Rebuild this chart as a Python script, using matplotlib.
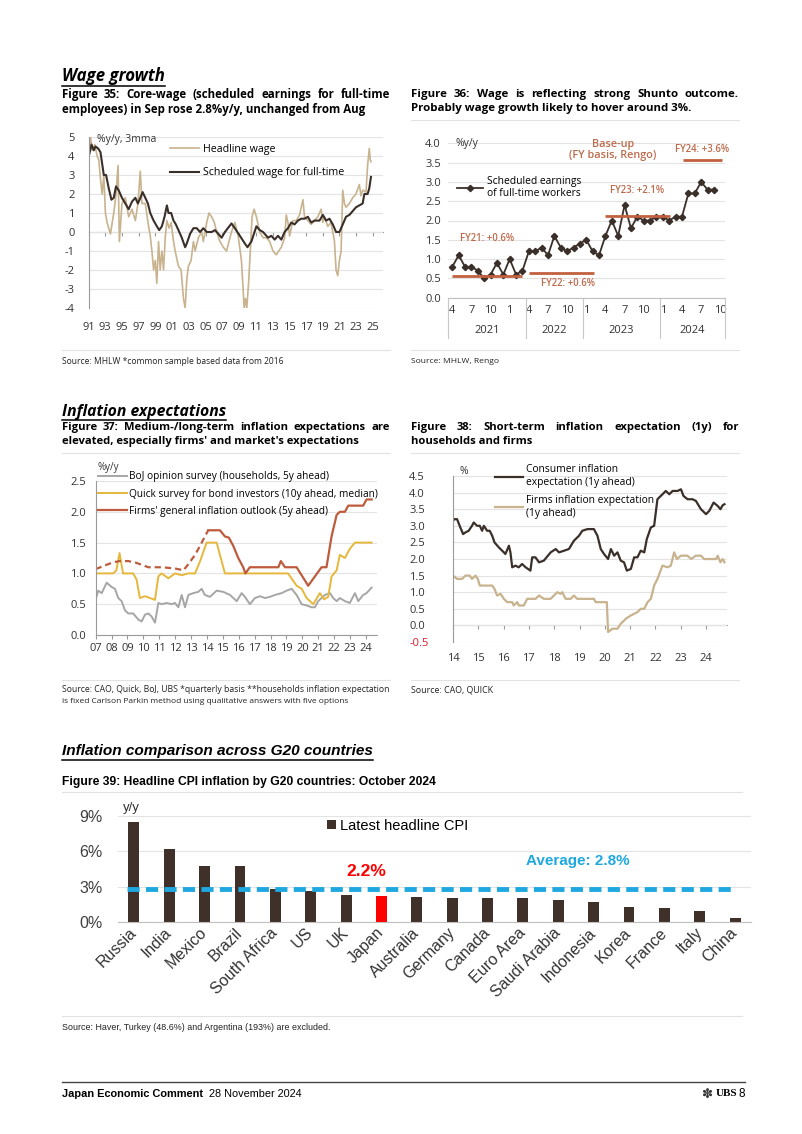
import matplotlib
matplotlib.use("Agg")
import matplotlib.pyplot as plt
from matplotlib.lines import Line2D
from matplotlib.transforms import ScaledTranslation

W, H = 802, 1134

# ==================== DATA ====================
# Figure 35: wage growth, %y/y 3mma
headline_year = [1991.04, 1991.24, 1991.44, 1991.75, 1992.03, 1992.23, 1992.43, 1992.63, 1992.83,
                 1993.02, 1993.22, 1993.42, 1993.62, 1994.02, 1994.29, 1994.53, 1994.69, 1995.0,
                 1995.4, 1995.8, 1996.2, 1996.6, 1996.91, 1997.19, 1997.39, 1997.79, 1998.18,
                 1998.38, 1998.58, 1998.78, 1998.98, 1999.17, 1999.37, 1999.57, 1999.77, 1999.97,
                 2000.17, 2000.37, 2000.64, 2000.88, 2001.16, 2001.36, 2001.75, 2002.07, 2002.35,
                 2002.55, 2002.75, 2002.94, 2003.26, 2003.54, 2003.74, 2004.13, 2004.53, 2004.73,
                 2005.13, 2005.4, 2005.72, 2006.04, 2006.32, 2006.71, 2007.11, 2007.5, 2007.79,
                 2008.09, 2008.49, 2008.89, 2009.28, 2009.48, 2009.6, 2009.76, 2009.92, 2010.16,
                 2010.4, 2010.55, 2010.79, 2011.07, 2011.47, 2011.86, 2012.26, 2012.66, 2013.05,
                 2013.45, 2013.73, 2014.05, 2014.44, 2014.64, 2014.84, 2015.04, 2015.43, 2015.83,
                 2016.23, 2016.63, 2016.82, 2017.22, 2017.62, 2018.01, 2018.41, 2018.81, 2019.01,
                 2019.2, 2019.6, 2019.99, 2020.4, 2020.59, 2020.79, 2020.99, 2021.19, 2021.39,
                 2021.59, 2021.78, 2022.18, 2022.58, 2022.97, 2023.37, 2023.57, 2023.77, 2024.17,
                 2024.36, 2024.56, 2024.68, 2024.76]
headline_wage = [4.2, 5.0, 4.3, 4.6, 4.0, 3.8, 2.8, 2.0, 3.0,
                 1.0, 0.5, 0.2, -0.1, 1.0, 2.0, 3.5, -0.5, 1.5,
                 1.8, 0.8, 1.2, 0.6, 1.5, 3.2, 1.5, 1.5, 0.3,
                 -0.2, -1.0, -2.0, -1.5, -2.7, -0.5, -2.0, -1.0, -2.0,
                 -0.3, 0.6, 0.2, 0.5, -0.5, -1.0, -1.8, -2.0, -3.5,
                 -4.0, -2.5, -1.8, -1.5, -0.5, -1.0, -0.3, 0.0, -0.5,
                 0.5, 1.0, 0.8, 0.5, 0.0, -0.5, -0.8, -1.0, -0.5,
                 0.0, 0.5, -0.2, -1.5, -3.0, -4.0, -3.5, -4.0, -2.5,
                 -0.5, 0.8, 1.2, 0.8, 0.0, -0.3, -0.3, -0.5, -1.0,
                 -1.2, -1.0, -0.8, -0.3, 0.9, 0.5, -0.2, 0.6, 0.6,
                 0.9, 1.7, 0.8, 0.6, 0.4, 0.6, 0.8, 1.2, 0.5,
                 0.8, 0.3, 0.5, -0.5, -2.0, -2.3, -1.5, -1.0, 2.2,
                 1.5, 1.3, 1.5, 1.8, 2.0, 2.5, 1.9, 2.2, 2.1,
                 3.5, 4.4, 3.8, 3.7]
sched_year = [1991.04, 1991.36, 1991.63, 1991.83, 1992.15, 1992.43, 1992.83, 1993.1, 1993.42,
              1993.74, 1994.02, 1994.29, 1994.6, 1995.0, 1995.4, 1995.8, 1996.2, 1996.6,
              1996.9, 1997.2, 1997.47, 1997.79, 1998.1, 1998.38, 1998.78, 1999.17, 1999.45,
              1999.77, 2000.09, 2000.37, 2000.56, 2000.88, 2001.16, 2001.44, 2001.75, 2002.15,
              2002.55, 2002.75, 2003.14, 2003.54, 2003.94, 2004.33, 2004.73, 2005.13, 2005.72,
              2006.12, 2006.52, 2006.91, 2007.31, 2008.09, 2008.49, 2009.09, 2009.68, 2010.0,
              2010.47, 2011.07, 2011.47, 2011.86, 2012.46, 2012.86, 2013.25, 2013.65, 2014.05,
              2014.44, 2014.84, 2015.24, 2015.63, 2016.03, 2016.43, 2016.82, 2017.22, 2017.62,
              2018.01, 2018.61, 2019.01, 2019.4, 2019.8, 2020.2, 2020.59, 2020.99, 2021.39,
              2021.78, 2022.18, 2022.58, 2022.97, 2023.37, 2023.77, 2023.97, 2024.36, 2024.56,
              2024.76]
sched_wage = [4.0, 4.6, 4.3, 4.5, 4.4, 4.2, 3.0, 3.0, 2.3,
              1.7, 1.8, 2.4, 2.2, 1.8, 1.5, 1.2, 1.6, 1.8,
              1.5, 1.8, 2.1, 1.8, 1.5, 1.0, 0.6, 0.3, 0.1,
              0.3, 0.8, 1.4, 1.0, 1.0, 0.6, 0.4, 0.1, -0.3,
              -0.8, -0.6, -0.1, 0.2, 0.2, 0.0, 0.2, 0.0, 0.0,
              0.1, -0.1, -0.3, 0.0, 0.45, 0.2, -0.2, -0.6, -0.8,
              -0.5, 0.3, 0.1, 0.0, -0.3, -0.2, -0.4, -0.2, -0.4,
              0.0, 0.2, 0.5, 0.4, 0.6, 0.7, 0.7, 0.8, 0.5,
              0.6, 0.6, 0.9, 0.6, 0.7, 0.4, 0.0, 0.0, 0.4,
              0.8, 0.9, 1.1, 1.3, 1.4, 1.5, 2.0, 2.0, 2.3,
              2.9]

# Figure 36: scheduled earnings of full-time workers, Apr-2021 .. Sep-2024 (monthly)
sched_fulltime = [0.8, 1.1, 0.8, 0.8, 0.7, 0.5, 0.6, 0.9, 0.6, 1.0, 0.6, 0.7,
                  1.2, 1.2, 1.3, 1.1, 1.6, 1.3, 1.2, 1.3, 1.4, 1.5, 1.2, 1.1,
                  1.6, 2.0, 1.6, 2.4, 1.8, 2.1, 2.0, 2.0, 2.1, 2.1, 2.0, 2.1,
                  2.1, 2.7, 2.7, 3.0, 2.8, 2.8]
month_labels = ["4", "7", "10", "1", "4", "7", "10", "1", "4", "7", "10", "1", "4", "7", "10"]
year_groups = ["2021", "2022", "2023", "2024"]
year_bounds = [-0.67, 11.5, 20.5, 32.5, 42.74]
baseup_labels = ["FY21: +0.6%", "FY22: +0.6%", "FY23: +2.1%", "FY24: +3.6%"]
baseup_level = [0.56, 0.63, 2.12, 3.58]
baseup_start = [0.0, 12.0, 23.9, 36.1]
baseup_end = [10.9, 22.2, 34.1, 42.2]

# Figure 37: medium/long-term inflation expectations
boj_year = [2007.0, 2007.16, 2007.38, 2007.69, 2008.0, 2008.21, 2008.42, 2008.63, 2008.84, 2009.05,
            2009.36, 2009.68, 2009.89, 2010.1, 2010.31, 2010.52, 2010.73, 2010.94, 2011.15, 2011.47,
            2011.78, 2011.99, 2012.2, 2012.41, 2012.62, 2012.83, 2013.14, 2013.45, 2013.67, 2013.87,
            2014.19, 2014.61, 2015.03, 2015.45, 2015.87, 2016.18, 2016.39, 2016.7, 2017.02, 2017.33,
            2017.65, 2017.96, 2018.28, 2018.7, 2019.01, 2019.33, 2019.64, 2019.96, 2020.27, 2020.58,
            2020.79, 2021.0, 2021.42, 2021.74, 2021.94, 2022.16, 2022.36, 2022.68, 2022.99, 2023.31,
            2023.52, 2023.83, 2024.04, 2024.36]
boj_val = [0.58, 0.72, 0.68, 0.85, 0.78, 0.75, 0.6, 0.55, 0.4, 0.35,
           0.35, 0.25, 0.22, 0.33, 0.35, 0.3, 0.2, 0.52, 0.5, 0.52,
           0.5, 0.52, 0.45, 0.65, 0.45, 0.65, 0.68, 0.7, 0.75, 0.65,
           0.62, 0.72, 0.7, 0.65, 0.55, 0.68, 0.62, 0.5, 0.6, 0.63,
           0.6, 0.62, 0.65, 0.68, 0.72, 0.75, 0.65, 0.5, 0.48, 0.45,
           0.45, 0.55, 0.65, 0.68, 0.6, 0.55, 0.6, 0.55, 0.52, 0.68,
           0.55, 0.65, 0.68, 0.77]
quick_year = [2007.0, 2008.1, 2008.3, 2008.5, 2008.72, 2009.36, 2009.57, 2009.78, 2010.1, 2010.42,
              2010.73, 2010.94, 2011.15, 2011.57, 2011.99, 2012.41, 2012.83, 2013.25, 2013.57, 2013.98,
              2014.61, 2015.13, 2019.1, 2019.64, 2019.96, 2020.27, 2020.69, 2021.1, 2021.37, 2021.63,
              2021.84, 2022.16, 2022.36, 2022.68, 2022.99, 2023.31, 2024.36]
quick_val = [1.0, 1.0, 1.05, 1.33, 1.0, 1.0, 0.9, 0.6, 0.63, 0.6,
             0.57, 0.95, 1.0, 0.92, 1.0, 0.97, 1.0, 1.0, 1.2, 1.5,
             1.5, 1.0, 1.0, 0.8, 0.75, 0.6, 0.5, 0.68, 0.58, 0.62,
             0.95, 1.05, 1.3, 1.25, 1.4, 1.5, 1.5]
firms_dash_year = [2007.0, 2007.48, 2008.1, 2008.5, 2009.05, 2009.57, 2010.31, 2011.15, 2011.99,
                   2012.52, 2012.83, 2013.25, 2013.57, 2013.87, 2014.08]
firms_dash_val = [1.07, 1.12, 1.18, 1.2, 1.2, 1.17, 1.1, 1.1, 1.08,
                  1.05, 1.15, 1.3, 1.45, 1.6, 1.7]
firms_year = [2014.08, 2014.82, 2015.13, 2015.38, 2015.65, 2015.97, 2016.28, 2016.42, 2016.7,
              2018.49, 2018.65, 2018.91, 2019.64, 2020.37, 2021.21, 2021.52, 2021.84, 2022.16,
              2022.36, 2022.68, 2022.89, 2023.83, 2024.04, 2024.36]
firms_val = [1.7, 1.7, 1.6, 1.58, 1.45, 1.25, 1.1, 1.0, 1.1,
             1.1, 1.2, 1.1, 1.1, 0.8, 1.1, 1.1, 1.6, 1.95,
             2.0, 2.0, 2.1, 2.1, 2.2, 2.2]

# Figure 38: short-term (1y) inflation expectations
cons_year = [2014.0, 2014.05, 2014.16, 2014.29, 2014.4, 2014.49, 2014.62, 2014.75, 2014.82, 2014.95,
             2015.06, 2015.15, 2015.22, 2015.35, 2015.45, 2015.55, 2015.64, 2015.81, 2016.01, 2016.07,
             2016.21, 2016.27, 2016.34, 2016.47, 2016.6, 2016.73, 2016.87, 2017.06, 2017.13, 2017.26,
             2017.4, 2017.59, 2017.86, 2018.06, 2018.19, 2018.39, 2018.58, 2018.78, 2018.98, 2019.11,
             2019.31, 2019.57, 2019.71, 2019.84, 2019.97, 2020.13, 2020.24, 2020.37, 2020.5, 2020.63,
             2020.76, 2020.87, 2021.03, 2021.16, 2021.29, 2021.42, 2021.56, 2021.66, 2021.82, 2021.95,
             2022.08, 2022.28, 2022.41, 2022.55, 2022.68, 2022.88, 2023.01, 2023.11, 2023.27, 2023.47,
             2023.6, 2023.8, 2024.0, 2024.13, 2024.3, 2024.46, 2024.57, 2024.66, 2024.73]
cons_val = [3.15, 3.2, 3.2, 2.95, 2.75, 2.8, 2.85, 3.0, 3.1, 3.0,
            3.0, 2.85, 3.0, 2.85, 2.85, 2.7, 2.5, 2.35, 2.2, 2.15,
            2.4, 2.2, 1.75, 1.8, 1.75, 1.85, 1.75, 1.65, 2.05, 2.05,
            1.9, 1.95, 2.2, 2.3, 2.2, 2.25, 2.3, 2.55, 2.7, 2.85,
            2.9, 2.9, 2.7, 2.3, 2.15, 2.0, 2.3, 2.1, 2.2, 1.95,
            1.9, 1.65, 1.7, 2.05, 2.05, 2.25, 2.2, 2.6, 2.95, 3.0,
            3.8, 3.95, 4.05, 3.95, 4.05, 4.05, 4.1, 3.9, 3.8, 3.8,
            3.75, 3.5, 3.35, 3.45, 3.7, 3.6, 3.5, 3.62, 3.65]
firm1y_year = [2014.0, 2014.16, 2014.36, 2014.49, 2014.66, 2014.75, 2014.89, 2014.98, 2015.06, 2015.55,
               2015.64, 2015.74, 2015.88, 2016.01, 2016.14, 2016.34, 2016.4, 2016.54, 2016.6, 2016.8,
               2016.93, 2017.26, 2017.4, 2017.59, 2017.86, 2017.99, 2018.12, 2018.25, 2018.32, 2018.45,
               2018.65, 2018.78, 2018.91, 2019.57, 2019.64, 2020.08, 2020.13, 2020.3, 2020.5, 2020.63,
               2020.83, 2021.03, 2021.29, 2021.42, 2021.56, 2021.69, 2021.82, 2021.95, 2022.08, 2022.28,
               2022.48, 2022.61, 2022.74, 2022.85, 2023.01, 2023.27, 2023.41, 2023.6, 2023.8, 2023.93,
               2024.4, 2024.46, 2024.57, 2024.66, 2024.73]
firm1y_val = [1.5, 1.4, 1.4, 1.5, 1.5, 1.4, 1.5, 1.4, 1.2, 1.2,
              1.1, 0.9, 0.95, 0.8, 0.7, 0.7, 0.6, 0.7, 0.6, 0.6,
              0.8, 0.8, 0.9, 0.8, 0.8, 0.9, 1.0, 0.95, 1.0, 0.8,
              0.8, 0.9, 0.8, 0.8, 0.7, 0.7, -0.2, -0.1, -0.1, 0.05,
              0.2, 0.3, 0.4, 0.5, 0.5, 0.7, 0.8, 1.2, 1.4, 1.8,
              1.75, 1.8, 2.2, 2.0, 2.1, 2.1, 2.0, 2.1, 2.1, 2.0,
              2.0, 2.1, 1.9, 2.0, 1.9]

# Figure 39: headline CPI, October 2024
countries = ["Russia", "India", "Mexico", "Brazil", "South Africa", "US", "UK", "Japan",
             "Australia", "Germany", "Canada", "Euro Area", "Saudi Arabia", "Indonesia",
             "Korea", "France", "Italy", "China"]
cpi = [8.5, 6.2, 4.76, 4.76, 2.8, 2.6, 2.3, 2.2, 2.1, 2.0, 2.0, 2.0, 1.9, 1.7, 1.3, 1.2, 0.9, 0.3]
g20_avg = 2.8

# ==================== STYLE ====================
plt.rcParams['font.family'] = ['Open Sans', 'DejaVu Sans']
plt.rcParams['axes.unicode_minus'] = False
DARK = '#3b2f29'
TAN = '#c8b38e'
GRID = '#e3e3e3'
AXC = '#9a9a9a'
TICKC = '#333333'
RUST = '#c2603f'
RUST_T = '#bd6b4c'
COND = 'Liberation Sans'

fig = plt.figure(figsize=(W / 100, H / 100), dpi=100)
fig.patch.set_facecolor('white')
rend = fig.canvas.get_renderer()


def fx(x):
    return x / W


def fy(y):
    return 1 - y / H


def box(x0, y0, x1, y1):
    return fig.add_axes([fx(x0), fy(y1), (x1 - x0) / W, (y1 - y0) / H])


def put(x, y, s, **kw):
    kw.setdefault('va', 'center')
    return fig.text(fx(x), fy(y), s, **kw)


def width(t):
    return t.get_window_extent(rend).width


def fit(t, target):
    t.set_fontsize(t.get_fontsize() * target / width(t))
    return t.get_fontsize()


def hrule(x0, x1, y, color='#e2e2e2', lw=0.8):
    fig.add_artist(Line2D([fx(x0), fx(x1)], [fy(y), fy(y)], color=color, lw=lw))


def heading(x, y, s, target, **kw):
    t = put(x, y, s, va='baseline', fontsize=11.5, fontweight='bold', fontstyle='italic', **kw)
    fit(t, target)
    hrule(x, x + width(t), y + 4.5, 'black', 1.1)


def title(x0, x1, y, line1, line2, w2, **kw):
    t2 = put(x0, y + 14.5, line2, fontsize=7.2, fontweight='bold', **kw)
    size = fit(t2, w2)
    words = line1.split()
    parts = [put(x0, y, w, fontsize=size, fontweight='bold', **kw) for w in words]
    ws = [width(p) for p in parts]
    gap = (x1 - x0 - sum(ws)) / (len(parts) - 1)
    x = x0
    for p, w in zip(parts, ws):
        p.set_x(fx(x))
        x += w + gap


def source(x, y, s, target, **kw):
    t = put(x, y, s, fontsize=6, color='#222222', **kw)
    fit(t, target)


# ==================== HEADINGS / TITLES ====================
heading(62, 81, "Wage growth", 103)
title(62, 390, 94.5, "Figure 35: Core-wage (scheduled earnings for full-time",
      "employees) in Sep rose 2.8%y/y, unchanged from Aug", 304)
title(411, 739, 94.5, "Figure 36: Wage is reflecting strong Shunto outcome.",
      "Probably wage growth likely to hover around 3%.", 280)
hrule(411, 739, 119.5)
hrule(62, 390, 350)
hrule(411, 739, 350)
source(62, 362, "Source: MHLW *common sample based data from 2016", 223)
source(411, 362, "Source: MHLW, Rengo", 88)

heading(62, 415.5, "Inflation expectations", 164)
title(62, 390, 427.5, "Figure 37: Medium-/long-term inflation expectations are",
      "elevated, especially firms' and market's expectations", 297)
title(411, 739, 427.5, "Figure 38: Short-term inflation expectation (1y) for",
      "households and firms", 121)
hrule(62, 390, 453.5)
hrule(411, 739, 453.5)
hrule(62, 390, 680)
hrule(411, 739, 680)
source(62, 690, "Source: CAO, Quick, BoJ, UBS *quarterly basis **households inflation expectation", 328)
source(62, 701.5, "is fixed Carlson Parkin method using qualitative answers with five options", 290)
source(411, 690, "Source: CAO, QUICK", 83)

heading(62, 755, "Inflation comparison across G20 countries", 314, fontfamily=COND)
t39 = put(62, 782, "Figure 39: Headline CPI inflation by G20 countries: October 2024",
          fontsize=8.5, fontweight='bold', fontfamily=COND)
fit(t39, 370)
hrule(62, 742, 792)
hrule(62, 742, 1016)
source(62, 1027, "Source: Haver, Turkey (48.6%) and Argentina (193%) are excluded.", 268, fontfamily=COND)

# ==================== FIGURE 35 ====================
ax = box(88.5, 137, 383, 308)
ax.plot(headline_year, headline_wage, color=TAN, lw=1.2, label='Headline wage')
ax.plot(sched_year, sched_wage, color=DARK, lw=1.5, label='Scheduled wage for full-time')
ax.set_xlim(1991, 2026.2)
ax.set_ylim(-4, 5)
ax.set_yticks(range(-4, 6))
ax.set_xticks(range(1991, 2026, 2))
ax.set_xticklabels([f"{y % 100:02d}" for y in range(1991, 2026, 2)])
ax.grid(axis='y', color=GRID, lw=0.8)
ax.set_axisbelow(True)
for s in ('top', 'right', 'bottom'):
    ax.spines[s].set_visible(False)
ax.spines['left'].set_color(AXC)
ax.tick_params(axis='y', length=0, pad=10, labelsize=8, labelcolor=TICKC)
ax.tick_params(axis='x', length=0, pad=10, labelsize=8, labelcolor=TICKC)
zero = ax.secondary_xaxis(4 / 9)
zero.set_xticks(range(1991, 2026, 2))
zero.tick_params(length=3, labelbottom=False, color=AXC)
zero.spines['bottom'].set_color(AXC)
ax.text(0.03, 0.985, "%y/y, 3mma", transform=ax.transAxes, fontsize=7.5, color=TICKC, va='center')
ax.legend(loc='upper left', bbox_to_anchor=(0.277, 0.958), frameon=False, fontsize=7.7,
          handlelength=2.7, handletextpad=0.35, labelspacing=1.15, borderpad=0, borderaxespad=0)

# ==================== FIGURE 36 ====================
ax = box(448, 143.3, 725, 297.7)
ax.plot(range(len(sched_fulltime)), sched_fulltime, color=DARK, lw=1.3, marker='D', ms=3.2,
        label='Scheduled earnings\nof full-time workers')
ax.hlines(baseup_level, baseup_start, baseup_end, color=RUST, lw=2)
for lab, a, b, lvl, dy in zip(baseup_labels, baseup_start, baseup_end, baseup_level,
                              [0.98, -0.26, 0.67, 0.26]):
    ax.text((a + b) / 2 + (1.0 if lab.startswith('FY22') else 0), lvl + dy, lab, ha='center',
            va='center', color=RUST_T, fontsize=6.9, fontweight='semibold')
ax.text(25.2, 3.83, "Base-up\n(FY basis, Rengo)", ha='center', va='center', color=RUST_T,
        fontsize=7.8, fontweight='semibold', linespacing=1.05)
ax.set_xlim(year_bounds[0], year_bounds[-1])
ax.set_ylim(0, 4)
ax.set_yticks([0, 0.5, 1, 1.5, 2, 2.5, 3, 3.5, 4])
ax.set_yticklabels([f"{v:.1f}" for v in [0, 0.5, 1, 1.5, 2, 2.5, 3, 3.5, 4]])
ax.set_xticks(range(0, 43, 3))
ax.set_xticklabels(month_labels)
ax.grid(axis='y', color=GRID, lw=0.8)
ax.set_axisbelow(True)
for s in ('top', 'right', 'left'):
    ax.spines[s].set_visible(False)
ax.spines['bottom'].set_color('#bfbfbf')
ax.tick_params(axis='y', length=0, pad=5, labelsize=8, labelcolor=TICKC)
ax.tick_params(axis='x', length=0, pad=5, labelsize=8, labelcolor=TICKC)
tr = ax.get_xaxis_transform()
for b in year_bounds:
    ax.plot([b, b], [0, -0.26], transform=tr, color='#c8c8c8', lw=0.8, clip_on=False)
for lab, a, b in zip(year_groups, year_bounds[:-1], year_bounds[1:]):
    ax.text((a + b) / 2, -0.215, lab, transform=tr, ha='center', va='center', fontsize=8, color=TICKC)
ax.text(0.027, 1.0, "%y/y", transform=ax.transAxes, fontsize=7.5, color=TICKC, va='center')
ax.legend(loc='upper left', bbox_to_anchor=(0.031, 0.79), frameon=False, fontsize=7.4,
          handlelength=2.6, handletextpad=0.35, borderpad=0, borderaxespad=0)

# ==================== FIGURE 37 ====================
ax = box(95.7, 481, 376.7, 635)
ax.plot(boj_year, boj_val, color='#a6a6a6', lw=1.4, label='BoJ opinion survey (households, 5y ahead)')
ax.plot(quick_year, quick_val, color='#e5b73b', lw=1.4,
        label='Quick survey for bond investors (10y ahead, median)')
ax.plot(firms_year, firms_val, color='#bf5b3d', lw=1.6, label="Firms' general inflation outlook (5y ahead)")
ax.plot(firms_dash_year, firms_dash_val, color='#bf5b3d', lw=1.6, ls=(0, (2.8, 1.8)))
ax.set_xlim(2007, 2024.68)
ax.set_ylim(0, 2.5)
ax.set_yticks([0, 0.5, 1, 1.5, 2, 2.5])
ax.set_yticklabels([f"{v:.1f}" for v in [0, 0.5, 1, 1.5, 2, 2.5]])
ax.set_xticks(range(2007, 2025))
ax.set_xticklabels([f"{y % 100:02d}" for y in range(2007, 2025)])
ax.grid(axis='y', color=GRID, lw=0.8)
ax.set_axisbelow(True)
for s in ('top', 'right'):
    ax.spines[s].set_visible(False)
ax.spines['left'].set_color(AXC)
ax.spines['bottom'].set_color(AXC)
ax.tick_params(axis='y', length=0, pad=7, labelsize=8, labelcolor=TICKC)
ax.tick_params(axis='x', length=3, pad=3, labelsize=8, labelcolor=TICKC, color=AXC)
ax.text(0.008, 1.085, "%y/y", transform=ax.transAxes, fontsize=7, color=TICKC, va='center')
ax.legend(loc='upper left', bbox_to_anchor=(0.008, 1.062), frameon=False, fontsize=7.3,
          handlelength=2.9, handletextpad=0.15, labelspacing=0.62, borderpad=0, borderaxespad=0)

# ==================== FIGURE 38 ====================
ax = box(453, 476, 727, 642)
ax.plot(cons_year, cons_val, color=DARK, lw=1.6, label='Consumer inflation\nexpectation (1y ahead)')
ax.plot(firm1y_year, firm1y_val, color=TAN, lw=1.6, label='Firms inflation expectation\n(1y ahead)')
ax.set_xlim(2014, 2024.83)
ax.set_ylim(-0.5, 4.5)
yt = [-0.5, 0, 0.5, 1, 1.5, 2, 2.5, 3, 3.5, 4, 4.5]
ax.set_yticks(yt)
ax.set_yticklabels([f"{v:.1f}" for v in yt])
ax.set_xticks(range(2014, 2025))
ax.set_xticklabels([f"{y % 100:02d}" for y in range(2014, 2025)])
ax.grid(axis='y', color=GRID, lw=0.8)
ax.set_axisbelow(True)
for s in ('top', 'right', 'bottom'):
    ax.spines[s].set_visible(False)
ax.spines['left'].set_color(AXC)
ax.tick_params(axis='y', length=0, pad=31.5, labelsize=8)
for lbl in ax.get_yticklabels():
    lbl.set_horizontalalignment('left')
    lbl.set_color(TICKC)
ax.get_yticklabels()[0].set_color('#e0192a')
ax.tick_params(axis='x', length=0, pad=8, labelsize=8, labelcolor=TICKC)
zero = ax.secondary_xaxis(0.1)
zero.set_xticks(range(2014, 2025))
zero.tick_params(length=3, labelbottom=False, color=AXC)
zero.spines['bottom'].set_color(AXC)
ax.text(0.025, 1.03, "%", transform=ax.transAxes, fontsize=7.5, color=TICKC, va='center')
ax.legend(loc='upper left', bbox_to_anchor=(0.153, 1.07), frameon=False, fontsize=7.4,
          handlelength=2.7, handletextpad=0.3, labelspacing=0.7, borderpad=0, borderaxespad=0)

# ==================== FIGURE 39 ====================
ax = box(118, 809, 751, 922)
pos = list(range(len(countries)))
bar_colors = ['#ff0000' if c == 'Japan' else '#3f3129' for c in countries]
bars = ax.bar(pos, cpi, width=0.31, color=bar_colors)
ax.hlines(g20_avg, -0.2, 16.9, colors='#1fa8e0', lw=3.5, linestyles=[(0, (2.5, 1.3))])
ax.set_xlim(-0.45, 17.45)
ax.set_ylim(0, 9.6)
ax.set_yticks([0, 3, 6, 9], ['0%', '3%', '6%', '9%'], fontsize=11.5, fontfamily=COND, color='#404040')
ax.set_xticks(pos, countries, rotation=45, ha='right', va='center', rotation_mode='anchor',
              fontsize=11.5, fontfamily=COND, color='#333333')
shift = ScaledTranslation(0.09, -0.02, fig.dpi_scale_trans)
for lbl in ax.get_xticklabels():
    lbl.set_transform(lbl.get_transform() + shift)
ax.tick_params(axis='both', length=0)
ax.tick_params(axis='x', pad=6)
ax.tick_params(axis='y', pad=11)
ax.grid(axis='y', color=GRID, lw=0.8)
ax.set_axisbelow(True)
for s in ('top', 'right', 'left'):
    ax.spines[s].set_visible(False)
ax.spines['bottom'].set_color('#bfbfbf')
ax.text(-0.08, 9.68, "y/y", ha='center', va='center', fontsize=9.5, fontfamily=COND, color='#333333')
ax.text(6.56, 4.33, "2.2%", ha='center', va='center', fontsize=12.5, fontweight='bold',
        fontfamily=COND, color='#ff0000')
ax.text(12.56, 5.18, "Average: 2.8%", ha='center', va='center', fontsize=11, fontweight='bold',
        fontfamily=COND, color='#1fa8e0')
ax.legend([bars], ["Latest headline CPI"], loc='center left', bbox_to_anchor=(0.33, 0.85),
          frameon=False, prop={'family': COND, 'size': 10.5}, handlelength=0.6, handleheight=0.6,
          handletextpad=0.3, borderpad=0, borderaxespad=0)

# ==================== FOOTER ====================
hrule(62, 745, 1082, '#444444', 1.0)
f1 = put(62, 1094, "Japan Economic Comment", fontsize=7.5, fontweight='bold', fontfamily=COND)
fit(f1, 141)
f2 = put(209, 1094, "28 November 2024", fontsize=7.5, fontfamily=COND)
fit(f2, 93)
put(745, 1094, "8", ha='right', fontsize=8.5, fontfamily=COND)
put(716, 1094, "UBS", ha='left', fontsize=8, fontweight='bold', fontfamily='Liberation Serif')
put(713, 1094, "\u273d", ha='right', fontsize=9.5, fontfamily='DejaVu Sans', color='#333333')

fig.savefig("out.png", dpi=100, facecolor='white')
